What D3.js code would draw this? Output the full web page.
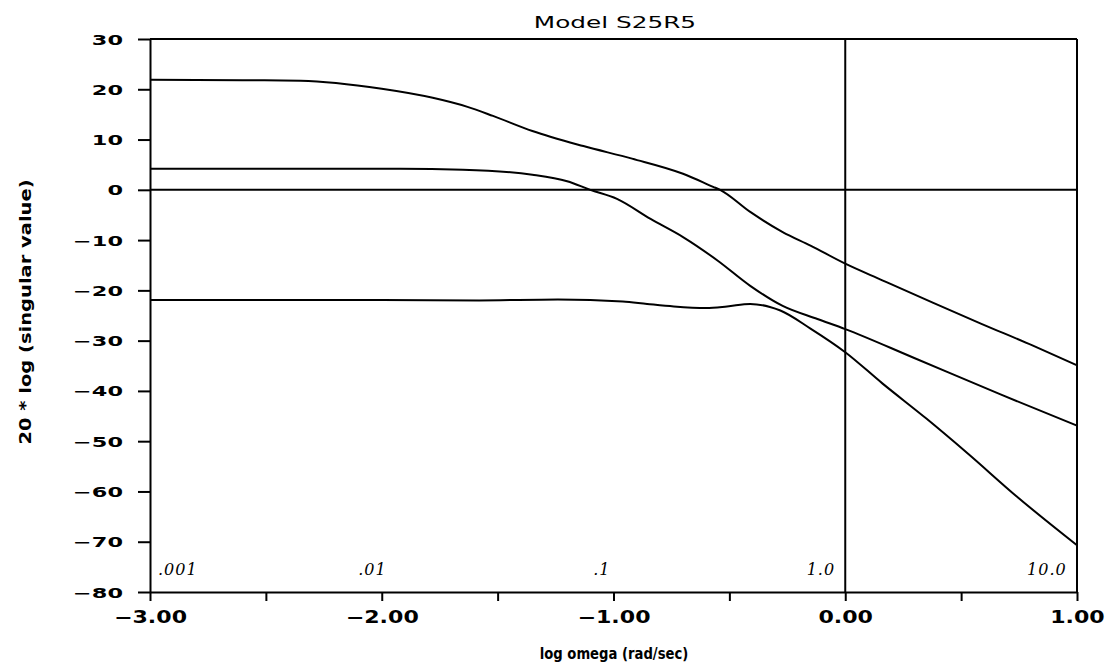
<!DOCTYPE html>
<html>
<head>
<meta charset="utf-8">
<script src="https://cdn.jsdelivr.net/npm/d3@7"></script>
<style>
  body { margin: 0; background: #fff; }
  svg text { font-family: "DejaVu Sans", sans-serif; fill: #000; }
</style>
</head>
<body>
<div id="chart"></div>
<script>
// singular value curves, x = log10(omega), y = 20*log10(sigma)
const sv1X = [-3.0, -2.6, -2.35, -2.0, -1.78, -1.63, -1.52, -1.35, -1.13, -0.92, -0.70, -0.57, -0.54, -0.41, -0.27, -0.15, 0.0, 0.16, 0.38, 0.59, 0.81, 1.0]
const sv1Y = [21.9, 21.8, 21.7, 20.1, 18.3, 16.5, 14.7, 11.7, 8.7, 6.2, 3.2, 0.6, 0, -4.4, -8.4, -11.1, -14.7, -18.0, -22.5, -26.7, -31, -34.9]

const sv2X = [-3.0, -2.5, -1.92, -1.65, -1.35, -1.20, -1.10, -0.985, -0.84, -0.70, -0.55, -0.41, -0.27, -0.12, 0.0, 0.29, 0.67, 1.0]
const sv2Y = [4.2, 4.2, 4.2, 4.0, 3.0, 1.7, 0, -1.8, -5.8, -9.4, -14.1, -19.1, -23.1, -25.7, -27.7, -33.3, -40.7, -46.9]

const sv3X = [-3.0, -2.0, -1.58, -1.24, -0.96, -0.855, -0.74, -0.60, -0.51, -0.41, -0.325, -0.28, -0.15, 0.0, 0.16, 0.35, 0.53, 0.74, 1.0]
const sv3Y = [-21.9, -21.9, -22.0, -21.8, -22.2, -22.7, -23.2, -23.5, -23.2, -22.7, -23.3, -24.0, -27.6, -32.3, -38.5, -45.5, -52.5, -61.0, -70.7]

const xTicks = [-3, -2.5, -2, -1.5, -1, -0.5, 0, 0.5, 1]
const yTicks = [-80, -70, -60, -50, -40, -30, -20, -10, 0, 10, 20, 30]

// handwritten decade marks
const decadeX = [-2.88, -2.04, -1.05, -0.105, 0.87]
const decadeText = [".001", ".01", ".1", "1.0", "10.0"]

const width = 1111, height = 670

const svg = d3.select('#chart')
  .append('svg')
  .attr('width', width)
  .attr('height', height)

const x = d3.scaleLinear().domain([-3, 1]).range([150, 1077])
const y = d3.scaleLinear().domain([-80, 30]).range([592, 39])

const fmtMinus = s => s.replace('-', '\u2212')

// y axis (plotter font is wide, so stretch labels sideways)
const yStretch = 1.6
const yAxis = svg.append('g')
  .attr('transform', 'translate(' + x(-3) + ',0)')
  .call(d3.axisLeft(y).tickValues(yTicks).tickSize(12).tickSizeOuter(0)
    .tickFormat(d => fmtMinus(String(d))))
yAxis.selectAll('text')
  .style('font-size', '14px').style('font-weight', 'bold')
  .attr('x', -27 / yStretch)
  .attr('dy', '0.36em')
  .attr('transform', 'scale(' + yStretch + ',1)')

// x axis
const xStretch = 1.3
const xAxis = svg.append('g')
  .attr('transform', 'translate(0,' + y(-80) + ')')
  .call(d3.axisBottom(x).tickValues(xTicks).tickSize(9).tickSizeOuter(0).tickPadding(10)
    .tickFormat(d => Number.isInteger(d) ? fmtMinus(d.toFixed(2)) : ''))
xAxis.selectAll('text')
  .style('font-size', '17px').style('font-weight', 'bold')
  .attr('transform', 'scale(' + xStretch + ',1)')

svg.selectAll('.domain, .tick line').attr('stroke', '#000').attr('stroke-width', 2)

// frame and zero lines
const frame = [
  [x(-3), y(30), x(1), y(30)],
  [x(1), y(30), x(1), y(-80)],
  [x(-3), y(0), x(1), y(0)],
  [x(0), y(30), x(0), y(-80)]
]
svg.selectAll('line.frame')
  .data(frame)
  .enter().append('line')
  .attr('class', 'frame')
  .attr('x1', d => d[0]).attr('y1', d => d[1])
  .attr('x2', d => d[2]).attr('y2', d => d[3])
  .attr('stroke', '#000').attr('stroke-width', 2)

// curves
const line = d3.line()
  .x(d => x(d[0]))
  .y(d => y(d[1]))
  .curve(d3.curveMonotoneX)

const curves = [d3.zip(sv1X, sv1Y), d3.zip(sv2X, sv2Y), d3.zip(sv3X, sv3Y)]
svg.selectAll('path.sv')
  .data(curves)
  .enter().append('path')
  .attr('class', 'sv')
  .attr('d', line)
  .attr('fill', 'none')
  .attr('stroke', '#000')
  .attr('stroke-width', 2)

// decade annotations
svg.selectAll('text.decade')
  .data(decadeText)
  .enter().append('text')
  .attr('class', 'decade')
  .attr('x', (d, i) => x(decadeX[i]))
  .attr('y', 575)
  .attr('text-anchor', 'middle')
  .style('font-family', '"DejaVu Serif", serif')
  .style('font-style', 'italic')
  .style('font-size', '16px')
  .style('letter-spacing', '1px')
  .text(d => d)

// titles
svg.append('text')
  .attr('transform', 'translate(615,28) scale(1.65,1)')
  .attr('text-anchor', 'middle')
  .style('font-size', '15px')
  .text('Model S25R5')

svg.append('text')
  .attr('transform', 'translate(614,659) scale(0.88,1)')
  .attr('text-anchor', 'middle')
  .style('font-size', '15px').style('font-weight', 'bold')
  .text('log omega (rad/sec)')

svg.append('text')
  .attr('transform', 'translate(31,312) rotate(-90) scale(1.3,1)')
  .attr('text-anchor', 'middle')
  .style('font-size', '15px').style('font-weight', 'bold')
  .text('20 * log (singular value)')
</script>
</body>
</html>
